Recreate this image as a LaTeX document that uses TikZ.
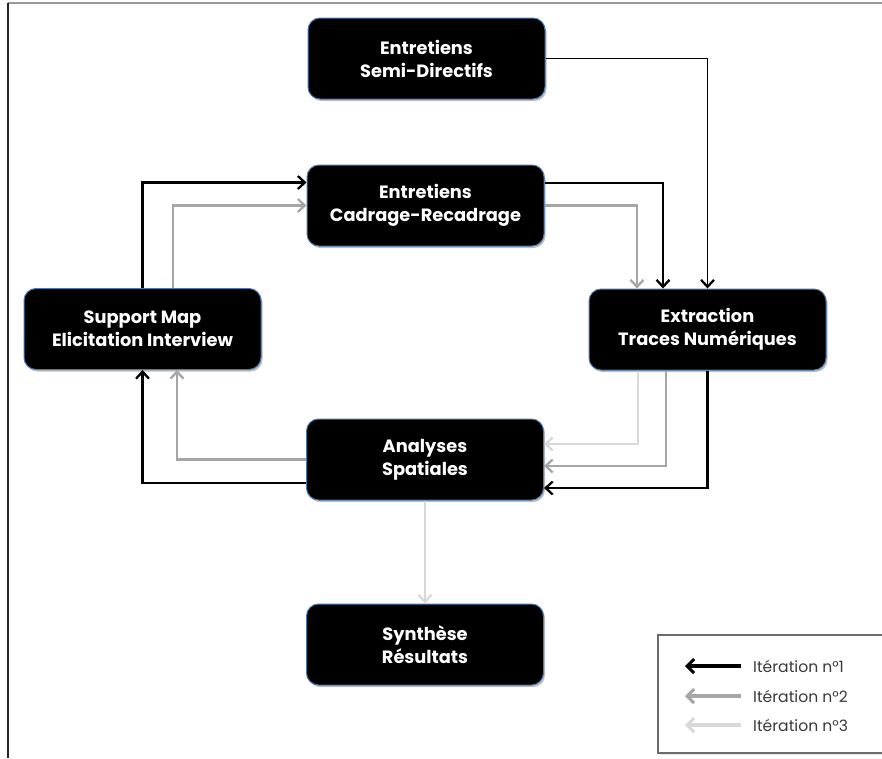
\documentclass[tikz,border=0pt]{standalone}
\usepackage{fontspec}
\setmainfont{Poppins}
\usetikzlibrary{arrows.meta,shadows}
\definecolor{boxblue}{HTML}{4A7AB0}
\definecolor{itA}{HTML}{000000}
\definecolor{itB}{HTML}{A6A6A6}
\definecolor{itC}{HTML}{D9D9D9}
\definecolor{legtext}{HTML}{3A3A3A}
\begin{document}
\begin{tikzpicture}[x=1pt,y=-1pt,
  box/.style={draw=boxblue, line width=1pt, fill=black, rounded corners=12pt,
    minimum width=237pt, minimum height=81pt, inner sep=0pt, text=white, align=center,
    font=\bfseries\fontsize{17.8}{23}\selectfont,
    drop shadow={shadow xshift=1.5pt, shadow yshift=-2pt, opacity=0.25, fill=black}},
  conn/.style={line width=2.5pt, -{Straight Barb[length=7pt,width=13pt,line width=2.3pt]}},
  iterA/.style={conn, draw=itA},
  iterB/.style={conn, draw=itB},
  iterC/.style={conn, draw=itC},
  thinA/.style={iterA, line width=1.9pt},
  legarrow/.style={line width=3.4pt, -{Straight Barb[length=7pt,width=14pt,line width=3pt]}},
  legtxt/.style={anchor=west, inner sep=0pt, text=legtext, font=\fontsize{15.6}{18}\selectfont}
]
\useasboundingbox (0,0) rectangle (882,758);
\fill[white] (0,0) rectangle (882,758);
% outer frame
\draw[color=gray!80, line width=1.8pt] (7.5,3) -- (882,3);
\draw[color=black!85, line width=2pt] (7.5,3) -- (7.5,758);

% nodes
\node[box] (semi) at (426.5,58.5) {Entretiens\\Semi-Directifs};
\node[box] (cad)  at (425.5,205.5) {Entretiens\\Cadrage-Recadrage};
\node[box] (sup)  at (142.5,329) {Support Map\\Elicitation Interview};
\node[box] (ext)  at (707.5,329.5) {Extraction\\Traces Numériques};
\node[box] (ana)  at (425,459.5) {Analyses\\Spatiales};
\node[box] (syn)  at (425,644.5) {Synthèse\\Résultats};

% connectors
\draw[thinA] (semi.east) -| (ext.north);
\draw[iterA] ([yshift=22.5pt]cad.east) -| ([xshift=-44.5pt]ext.north);
\draw[iterB] (cad.east) -| ([xshift=-70.5pt]ext.north);
\draw[iterA] (sup.north) |- ([yshift=23pt]cad.west);
\draw[iterB] ([xshift=30.5pt]sup.north) |- (cad.west);
\draw[iterC] ([xshift=-69.5pt]ext.south) |- ([yshift=15.5pt]ana.east);
\draw[iterB] ([xshift=-41.5pt]ext.south) |- ([yshift=-6.5pt]ana.east);
\draw[iterA] (ext.south) |- ([yshift=-28.5pt]ana.east);
\draw[iterA] ([yshift=-23.5pt]ana.west) -| (sup.south);
\draw[iterB] (ana.west) -| ([xshift=34.5pt]sup.south);
\draw[iterC] (ana.south) -- (syn.north);

% legend
\draw[draw=gray!85!black, line width=1.6pt, fill=white,
  drop shadow={shadow xshift=1.5pt, shadow yshift=-2pt, opacity=0.2}]
  (658,635) rectangle (900,753);
\node[legtxt] (l1) at (753,666) {Itération n°1};
\node[legtxt] (l2) at (753,696) {Itération n°2};
\node[legtxt] (l3) at (753,725) {Itération n°3};
\coordinate (l1s) at (741,666); \coordinate (l1e) at (685,666);
\coordinate (l2s) at (741,696); \coordinate (l2e) at (685,696);
\coordinate (l3s) at (741,725); \coordinate (l3e) at (685,725);
\draw[legarrow, draw=itA] (l1s) -- (l1e);
\draw[legarrow, draw=itB] (l2s) -- (l2e);
\draw[legarrow, draw=itC] (l3s) -- (l3e);
\end{tikzpicture}
\end{document}
